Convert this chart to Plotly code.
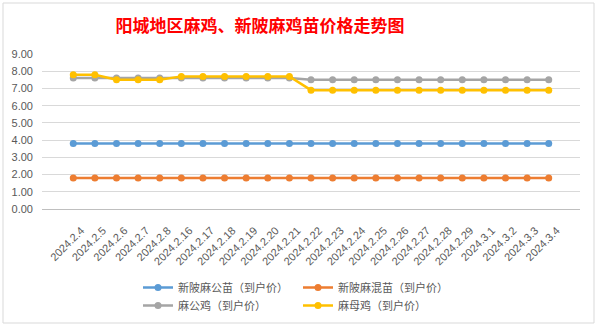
import plotly.graph_objects as go

# Dates (category axis)
dates = ["2024.2.4", "2024.2.5", "2024.2.6", "2024.2.7", "2024.2.8",
         "2024.2.16", "2024.2.17", "2024.2.18", "2024.2.19", "2024.2.20",
         "2024.2.21", "2024.2.22", "2024.2.23", "2024.2.24", "2024.2.25",
         "2024.2.26", "2024.2.27", "2024.2.28", "2024.2.29", "2024.3.1",
         "2024.3.2", "2024.3.3", "2024.3.4"]

# Prices (到户价)
chick_male = [3.8] * 23            # 新陂麻公苗
chick_mixed = [1.8] * 23           # 新陂麻混苗
rooster = [7.6] * 11 + [7.5] * 12  # 麻公鸡
hen = [7.8, 7.8, 7.5, 7.5, 7.5, 7.7, 7.7, 7.7, 7.7, 7.7, 7.7] + [6.9] * 12  # 麻母鸡

series_names = ["新陂麻公苗（到户价）", "新陂麻混苗（到户价）", "麻公鸡（到户价）", "麻母鸡（到户价）"]
series_values = [chick_male, chick_mixed, rooster, hen]
series_colors = ["#5B9BD5", "#ED7D31", "#A5A5A5", "#FFC000"]
# two legend rows: chicks on the first, grown birds on the second
series_legend = ["legend", "legend", "legend2", "legend2"]

W, H = 599, 327
ML, MR, MT, MB = 42, 19, 54, 118
PW, PH = W - ML - MR, H - MT - MB

fig = go.Figure()
for name, vals, col, lg in zip(series_names, series_values, series_colors, series_legend):
    fig.add_trace(go.Scatter(
        x=dates, y=vals, name=name, mode="lines+markers", legend=lg,
        line=dict(color=col, width=2.5),
        marker=dict(color=col, size=7, symbol="circle"),
    ))

legend_style = dict(
    orientation="h", x=(138 - ML) / PW, xanchor="left",
    yanchor="top", yref="container",
    entrywidth=115, entrywidthmode="pixels",
    font=dict(family="Noto Sans CJK SC", size=11, color="#595959"),
    itemwidth=30, tracegroupgap=0, bgcolor="rgba(0,0,0,0)",
)

fig.update_layout(
    width=W, height=H,
    margin=dict(l=ML, r=MR, t=MT, b=MB, pad=0, autoexpand=False),
    paper_bgcolor="white", plot_bgcolor="white",
    font=dict(family="Noto Sans CJK SC, Noto Sans, sans-serif", color="#595959", size=11),
    title=dict(
        text="阳城地区麻鸡、新陂麻鸡苗价格走势图",
        font=dict(family="Noto Sans CJK SC", size=17, color="#FF0000", weight="bold"),
        x=260 / W, xanchor="center", xref="container",
        y=1 - 26 / H, yanchor="middle", yref="container",
    ),
    xaxis=dict(
        type="category", tickangle=-45, showgrid=False, zeroline=False,
        showline=False, ticks="", automargin=False,
        ticklabelstandoff=12, ticklabelshift=8,
        tickfont=dict(family="Liberation Sans, Noto Sans", size=11, color="#595959"),
    ),
    yaxis=dict(
        range=[0, 9], dtick=1, tickformat=".2f", showgrid=True, automargin=False,
        gridcolor="#D9D9D9", gridwidth=1, zeroline=True, zerolinecolor="#BFBFBF",
        zerolinewidth=1, showline=False, ticks="", ticklabelstandoff=8,
        tickfont=dict(family="Liberation Sans, Noto Sans", size=11, color="#595959"),
    ),
    legend=dict(legend_style, y=1 - 273 / H),
    legend2=dict(legend_style, y=1 - 291 / H),
    showlegend=True,
)

# Chart frame
fig.add_shape(type="rect", xref="paper", yref="paper",
              x0=(3 - ML) / PW, x1=(594 - ML) / PW,
              y0=-(323 - (H - MB)) / PH, y1=1 + (MT - 3) / PH,
              line=dict(color="#D9D9D9", width=1), layer="below")

fig.write_html("out.html")
